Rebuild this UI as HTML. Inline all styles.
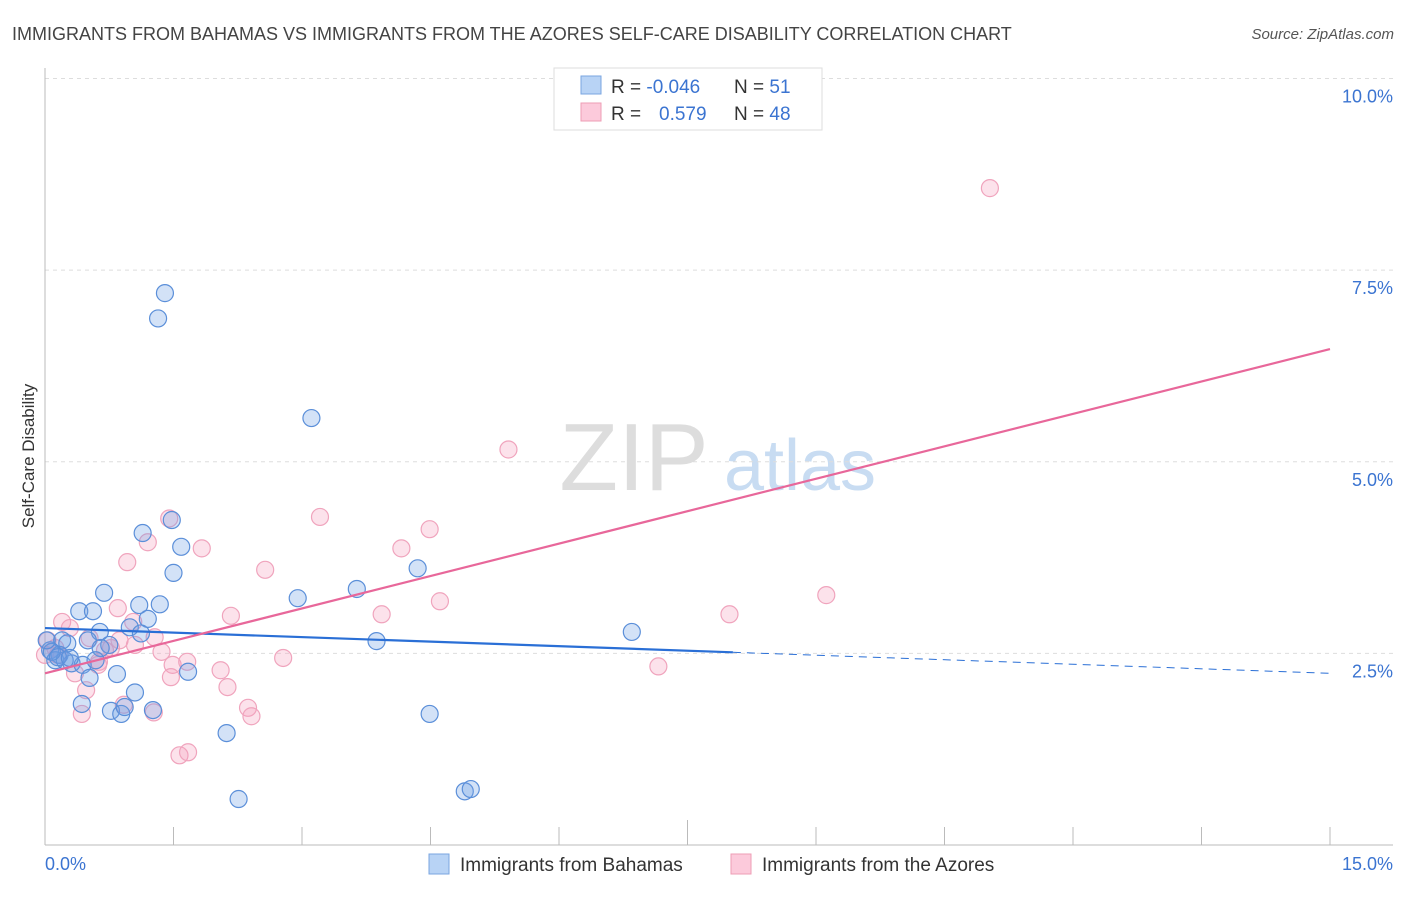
<!DOCTYPE html>
<html><head><meta charset="utf-8">
<style>
body{margin:0;background:#fff;font-family:"Liberation Sans",sans-serif;}
svg text{font-family:"Liberation Sans",sans-serif;}
</style></head>
<body>
<svg id="chart" width="1406" height="892" xmlns="http://www.w3.org/2000/svg">
<text x="12" y="40" font-size="18" fill="#444">IMMIGRANTS FROM BAHAMAS VS IMMIGRANTS FROM THE AZORES SELF-CARE DISABILITY CORRELATION CHART</text>
<text x="1394" y="39" font-size="15" fill="#555" text-anchor="end" font-style="italic">Source: ZipAtlas.com</text>
<text transform="translate(34,456) rotate(-90)" font-size="17" fill="#333" text-anchor="middle">Self-Care Disability</text>
<g>
<text x="634" y="490" font-size="96" fill="#ddd" font-family="Liberation Serif" text-anchor="middle">ZIP</text>
<text x="800" y="490" font-size="72" fill="#c8dcf2" text-anchor="middle">atlas</text>
</g>
<g id="grid"></g>
<g id="axes"></g>
<g id="marks"></g>
<g id="trends"></g>
<g>
<rect x="554" y="68" width="268" height="62" fill="#fff" stroke="#ddd"/>
<rect x="581" y="76" width="20" height="18" fill="#b8d3f5" stroke="#7aa6e0"/>
<rect x="581" y="103" width="20" height="18" fill="#fccadb" stroke="#ee9db5"/>
<text x="611" y="93" font-size="19" fill="#333">R = <tspan fill="#3b74d1">-0.046</tspan></text>
<text x="734" y="93" font-size="19" fill="#333">N = <tspan fill="#3b74d1"> 51</tspan></text>
<text x="611" y="120" font-size="19" fill="#333">R = <tspan fill="#3b74d1" x="659">0.579</tspan></text>
<text x="734" y="120" font-size="19" fill="#333">N = <tspan fill="#3b74d1">48</tspan></text>
</g>
<g>
<rect x="429" y="854" width="20" height="20" fill="#b8d3f5" stroke="#7aa6e0"/>
<text x="460" y="871" font-size="19" fill="#333">Immigrants from Bahamas</text>
<rect x="731" y="854" width="20" height="20" fill="#fccadb" stroke="#ee9db5"/>
<text x="762" y="871" font-size="19" fill="#333">Immigrants from the Azores</text>
</g>
</svg>
<script>
const yTicks=[2.5,5.0,7.5,10.0];
const yTickLabels=["2.5%","5.0%","7.5%","10.0%"];
const xTickCount=10;
const xDomain=[0,15];
const yDomain=[0,10];
const bahamasX=[1.40,1.32,3.11,1.48,1.14,1.59,1.50,4.35,0.69,3.64,2.95,1.34,1.10,0.40,0.56,1.20,0.99,0.64,1.12,0.50,0.20,0.26,0.75,0.65,3.87,6.85,0.06,0.17,0.12,0.31,0.23,0.44,0.84,1.67,0.52,1.05,0.43,0.77,0.89,0.93,1.26,4.49,2.12,2.26,4.90,4.97,0.08,0.15,0.29,0.59,0.02];
const bahamasY=[7.20,6.87,5.57,4.24,4.07,3.89,3.55,3.61,3.29,3.34,3.22,3.14,3.13,3.05,3.05,2.95,2.84,2.78,2.76,2.67,2.67,2.63,2.61,2.57,2.66,2.78,2.54,2.48,2.41,2.37,2.41,2.35,2.23,2.26,2.18,1.99,1.84,1.75,1.71,1.80,1.76,1.71,1.46,0.60,0.70,0.73,2.52,2.45,2.44,2.41,2.67];
const azoresX=[11.03,5.41,3.21,1.45,1.20,1.83,4.49,4.16,0.96,2.57,4.61,9.12,7.99,3.93,2.17,0.85,0.20,0.29,1.03,1.28,0.52,0.70,1.05,1.36,0.03,0.12,0.15,1.49,1.66,2.78,2.05,7.16,0.62,0.35,1.47,2.13,0.48,0.92,2.37,2.41,1.27,0.43,1.57,1.67,0.63,0.00,0.77,0.87];
const azoresY=[8.57,5.16,4.28,4.26,3.95,3.87,4.12,3.87,3.69,3.59,3.18,3.26,3.01,3.01,2.99,3.09,2.91,2.83,2.91,2.71,2.70,2.54,2.61,2.52,2.67,2.57,2.48,2.35,2.39,2.44,2.28,2.33,2.35,2.24,2.19,2.06,2.02,1.83,1.79,1.68,1.73,1.71,1.17,1.21,2.39,2.48,2.57,2.67];
const bahamasTrend=[2.83,2.24];
const bahamasSolidEnd=8.03;
const azoresTrend=[2.24,6.47];

const X0=45,X1=1330,Y0=845,Y1=79-(845-79)/9.98*0.02;
const sx=v=>X0+(v-xDomain[0])/(xDomain[1]-xDomain[0])*(X1-X0);
const sy=v=>Y0-(v-yDomain[0])/(yDomain[1]-yDomain[0])*(845-78.5);
const NS="http://www.w3.org/2000/svg";
function mk(tag,attrs,parent){const e=document.createElementNS(NS,tag);for(const k in attrs)e.setAttribute(k,attrs[k]);parent.appendChild(e);return e;}
const grid=document.getElementById('grid'),axes=document.getElementById('axes'),marks=document.getElementById('marks'),trends=document.getElementById('trends');
yTicks.forEach((t,i)=>{
  const l=mk('line',{x1:X0,x2:1393,y1:sy(t),y2:sy(t),stroke:'#ddd','stroke-dasharray':'4,4'},grid);
  
  
  const tx=mk('text',{x:1393,y:sy(t)+24,'font-size':18,fill:'#3b74d1','text-anchor':'end'},axes);
  tx.textContent=yTickLabels[i];
  
  
});
const ax=mk('line',{x1:X0,x2:X0,y1:68,y2:Y0,stroke:'#bbb'},axes);


const bx=mk('line',{x1:X0,x2:1393,y1:Y0,y2:Y0,stroke:'#bbb'},axes);


for(let i=1;i<=xTickCount;i++){
  const v=xDomain[0]+i*(xDomain[1]-xDomain[0])/xTickCount;
  const t=mk('line',{x1:sx(v),x2:sx(v),y1:i==5?820:827,y2:Y0,stroke:'#bbb'},axes);
  
  
}
const xl0=mk('text',{x:45,y:870,'font-size':18,fill:'#3b74d1'},axes);xl0.textContent='0.0%';


const xl1=mk('text',{x:1393,y:870,'font-size':18,fill:'#3b74d1','text-anchor':'end'},axes);xl1.textContent='15.0%';


azoresX.forEach((x,i)=>{
  const c=mk('circle',{cx:sx(x),cy:sy(azoresY[i]),r:8.5,fill:'rgba(245,160,190,0.3)',stroke:'#f0a4bd','stroke-width':1.2},marks);
  
  
});
bahamasX.forEach((x,i)=>{
  const c=mk('circle',{cx:sx(x),cy:sy(bahamasY[i]),r:8.5,fill:'rgba(110,160,230,0.3)',stroke:'#5b8fd9','stroke-width':1.2},marks);
  
  
});
const bAt=v=>bahamasTrend[0]+(bahamasTrend[1]-bahamasTrend[0])*(v-xDomain[0])/(xDomain[1]-xDomain[0]);
const t1=mk('line',{x1:sx(0),y1:sy(bahamasTrend[0]),x2:sx(bahamasSolidEnd),y2:sy(bAt(bahamasSolidEnd)),stroke:'#2a6fd6','stroke-width':2.2},trends);


const t2=mk('line',{x1:sx(bahamasSolidEnd),y1:sy(bAt(bahamasSolidEnd)),x2:sx(15),y2:sy(bahamasTrend[1]),stroke:'#2a6fd6','stroke-width':1,'stroke-dasharray':'8,6'},trends);


const t3=mk('line',{x1:sx(0),y1:sy(azoresTrend[0]),x2:sx(15),y2:sy(azoresTrend[1]),stroke:'#e8679a','stroke-width':2.2},trends);


</script>
</body></html>
